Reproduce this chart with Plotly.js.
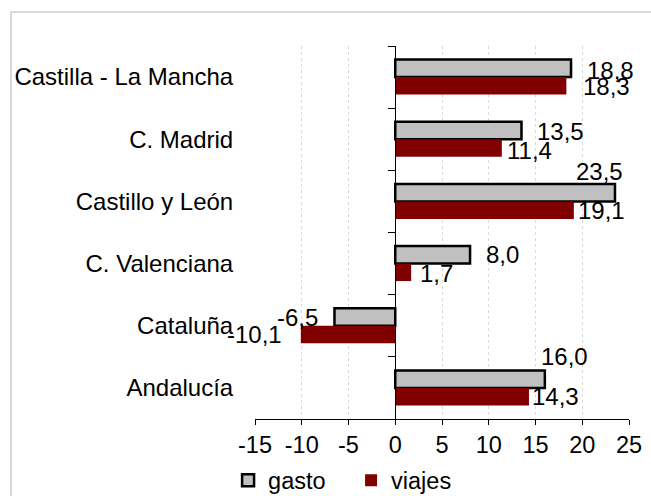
<!DOCTYPE html>
<html>
<head>
<meta charset="utf-8">
<script src="https://cdn.plot.ly/plotly-3.0.1.min.js"></script>
<style>
  html, body { margin: 0; padding: 0; background: #ffffff; }
  #wrap { position: relative; width: 651px; height: 496px; overflow: hidden; }
  #frame { position: absolute; left: 10px; top: 11px; width: 700px; height: 520px;
           border: 2px solid #d9d9d9; box-sizing: border-box; }
  #chart { position: absolute; left: 0; top: 0; width: 651px; height: 496px; }
</style>
</head>
<body>
<div id="wrap">
  <div id="frame"></div>
  <div id="chart"></div>
</div>
<script>
// ---- data (top-to-bottom order) ----
const categories = ["Castilla - La Mancha", "C. Madrid", "Castillo y León", "C. Valenciana", "Cataluña", "Andalucía"];
const gasto  = [18.8, 13.5, 23.5, 8.0, -6.5, 16.0];
const viajes = [18.3, 11.4, 19.1, 1.7, -10.1, 14.3];
const seriesNames = ["gasto", "viajes"];
const xTicks = [-15, -10, -5, 0, 5, 10, 15, 20, 25];

// ---- label placement tweaks (pixel offsets relative to bar end / bar centre) ----
const gastoLabelDx  = [39, 39, -15, 32, -37, 20];
const gastoLabelDy  = [7, 8, 30, 9, 8, 31];
const viajesLabelDx = [40, 28, 28, 25, -46, 27];
const viajesLabelDy = [-9, -11, -9, -10, -9, -9];

const FONT = "Liberation Sans, Arial, sans-serif";
const fmt = v => v.toFixed(1).replace(".", ",");

const traces = [
  {
    type: "bar", orientation: "h", name: seriesNames[0],
    y: categories, x: gasto,
    marker: { color: "#c0c0c0", line: { color: "#000000", width: 2.5 } },
    hoverinfo: "skip"
  },
  {
    type: "bar", orientation: "h", name: seriesNames[1],
    y: categories, x: viajes,
    marker: { color: "#800000", line: { width: 0 } },
    hoverinfo: "skip"
  },
  {
    // helper trace so the zero-position axis carries the categories
    type: "scatter", mode: "markers", y: categories, x: categories.map(() => 0),
    yaxis: "y2", marker: { opacity: 0 }, showlegend: false, hoverinfo: "skip"
  }
];

const annotations = [];
categories.forEach((c, i) => {
  annotations.push({
    x: gasto[i], y: c, xref: "x", yref: "y", text: fmt(gasto[i]),
    showarrow: false, xanchor: "center", yanchor: "middle",
    xshift: gastoLabelDx[i], yshift: gastoLabelDy[i],
    font: { family: FONT, size: 24, color: "#000" }
  });
  annotations.push({
    x: viajes[i], y: c, xref: "x", yref: "y", text: fmt(viajes[i]),
    showarrow: false, xanchor: "center", yanchor: "middle",
    xshift: viajesLabelDx[i], yshift: viajesLabelDy[i],
    font: { family: FONT, size: 24, color: "#000" }
  });
});

const layout = {
  width: 651, height: 496,
  margin: { l: 255, r: 22, t: 46, b: 77, pad: 0, autoexpand: false },
  paper_bgcolor: "rgba(0,0,0,0)", plot_bgcolor: "rgba(0,0,0,0)",
  font: { family: FONT, size: 23, color: "#000" },
  barmode: "group", bargap: 0.437, bargroupgap: 0,
  showlegend: true,
  legend: {
    orientation: "h", x: -0.072, xanchor: "left", y: -0.165, yanchor: "middle",
    font: { family: FONT, size: 23.5, color: "#000" },
    entrywidth: 78, traceorder: "normal",
    bgcolor: "rgba(0,0,0,0)"
  },
  xaxis: {
    range: [-15, 25], tickvals: xTicks, ticktext: xTicks.map(String),
    showgrid: true, gridcolor: "#d9d9d9", griddash: "dot", gridwidth: 1,
    zeroline: false,
    showline: true, linecolor: "#000", linewidth: 1,
    ticks: "outside", ticklen: 5, tickcolor: "#000", tickwidth: 1,
    tickfont: { family: FONT, size: 23.5, color: "#000" },
    fixedrange: true
  },
  yaxis: {
    type: "category", categoryorder: "array", categoryarray: categories,
    range: [5.5, -0.5],
    showgrid: false, zeroline: false, showline: false,
    ticks: "outside", ticklen: 16, tickcolor: "rgba(0,0,0,0)",
    tickfont: { family: FONT, size: 24, color: "#000" },
    fixedrange: true
  },
  yaxis2: {
    type: "category", categoryorder: "array", categoryarray: categories,
    range: [5.5, -0.5],
    overlaying: "y", anchor: "free", position: 15 / 40, side: "left",
    showgrid: false, zeroline: false,
    showline: true, linecolor: "#000", linewidth: 1,
    ticks: "outside", ticklen: 7, tickcolor: "#000", tickwidth: 1,
    tickson: "boundaries", showticklabels: false,
    fixedrange: true
  },
  annotations: annotations
};

Plotly.newPlot("chart", traces, layout, { displayModeBar: false, staticPlot: true });
</script>
</body>
</html>
